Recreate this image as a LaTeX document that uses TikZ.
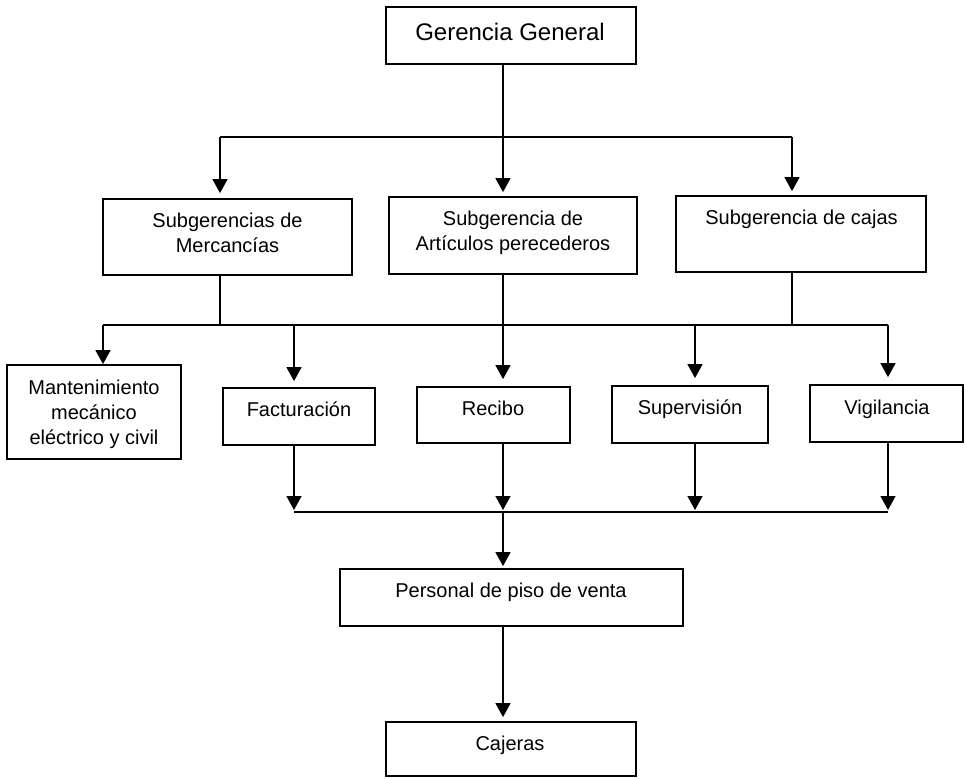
\documentclass[tikz,border=0pt]{standalone}
\usepackage{fontspec}
\setmainfont{Liberation Sans}
\usetikzlibrary{arrows.meta}
\begin{document}
\begin{tikzpicture}[x=1pt,y=-1pt,
  box/.style={draw=black, line width=1.8pt, rectangle, inner sep=0pt},
  lbl/.style={font=\fontsize{20}{25}\selectfont, align=center, inner sep=0pt, anchor=base},
  link/.style={draw=black, line width=1.5pt},
  arr/.style={link, -{Triangle[length=14pt,width=15pt]}},
]
\useasboundingbox (0,0) rectangle (965,778);

% boxes
\node[box, minimum width=250pt, minimum height=57pt] (gg) at (511,35.5) {};
\node[box, minimum width=249pt, minimum height=76pt] (s1) at (227.5,237) {};
\node[box, minimum width=248pt, minimum height=77pt] (s2) at (513,235.5) {};
\node[box, minimum width=250pt, minimum height=76pt] (s3) at (801,234) {};
\node[box, minimum width=174pt, minimum height=94pt] (m) at (94,412) {};
\node[box, minimum width=152pt, minimum height=57pt] (f) at (299,416.5) {};
\node[box, minimum width=153pt, minimum height=56pt] (r) at (493.5,415) {};
\node[box, minimum width=156pt, minimum height=57pt] (sv) at (690,414.5) {};
\node[box, minimum width=153pt, minimum height=57pt] (v) at (886.5,413.5) {};
\node[box, minimum width=343pt, minimum height=57pt] (p) at (511.5,597.5) {};
\node[box, minimum width=250pt, minimum height=54pt] (c) at (511,749) {};

% labels (base = baseline of the last line)
\node[lbl, font=\fontsize{24}{29}\selectfont] (ggt) at (510,41) {Gerencia General};
\node[lbl] (s1t) at (227.5,252) {Subgerencias de\\Mercancías};
\node[lbl] (s2t) at (513,250) {Subgerencia de\\Artículos perecederos};
\node[lbl] (s3t) at (801.5,224) {Subgerencia de cajas};
\node[lbl] (mt) at (94,444) {Mantenimiento\\mecánico\\eléctrico y civil};
\node[lbl] (ft) at (299,416) {Facturación};
\node[lbl] (rt) at (493,415) {Recibo};
\node[lbl] (svt) at (690,414) {Supervisión};
\node[lbl] (vt) at (887,414) {Vigilancia};
\node[lbl] (pt) at (511,597) {Personal de piso de venta};
\node[lbl] (ct) at (510,750) {Cajeras};

% junction points of the connector buses
\coordinate (j1) at (503,137);
\coordinate (b1l) at (220,137);
\coordinate (b1r) at (792,137);
\coordinate (b2l) at (103,325);
\coordinate (b2m) at (220,325);
\coordinate (b2f) at (294,325);
\coordinate (b2s) at (695,325);
\coordinate (b2r) at (792,325);
\coordinate (b2v) at (888,325);
\coordinate (b3l) at (294,512);
\coordinate (b3m) at (503,512);
\coordinate (b3s) at (695,512);
\coordinate (b3r) at (888,512);

% first level
\draw[link] (gg.south -| j1) -- (j1);
\draw[link] (b1l) -- (b1r);
\draw[arr, shorten >=5pt] (b1l) -- (b1l |- s1.north);
\draw[arr, shorten >=4pt] (j1) -- (j1 |- s2.north);
\draw[arr, shorten >=4pt] (b1r) -- (b1r |- s3.north);

% second level
\draw[link] (s1.south -| b2m) -- (b2m);
\draw[link] (s3.south -| b2r) -- (b2r);
\draw[link] (b2l) -- (b2v);
\draw[arr] (b2l) -- (b2l |- m.north);
\draw[arr, shorten >=6pt] (b2f) -- (b2f |- f.north);
\draw[arr, shorten >=7pt] (s2.south -| j1) -- (j1 |- r.north);
\draw[arr, shorten >=7pt] (b2s) -- (b2s |- sv.north);
\draw[arr, shorten >=7pt] (b2v) -- (b2v |- v.north);

% third level
\draw[arr, shorten >=2pt] (f.south -| b3l) -- (b3l);
\draw[arr, shorten >=2pt] (r.south -| b3m) -- (b3m);
\draw[arr, shorten >=2pt] (sv.south -| b3s) -- (b3s);
\draw[arr, shorten >=2pt] (v.south -| b3r) -- (b3r);
\draw[link] (b3l) -- (b3r);
\draw[arr, shorten >=2pt] (b3m) -- (b3m |- p.north);
\draw[arr, shorten >=4pt] (p.south -| b3m) -- (b3m |- c.north);
\end{tikzpicture}
\end{document}
